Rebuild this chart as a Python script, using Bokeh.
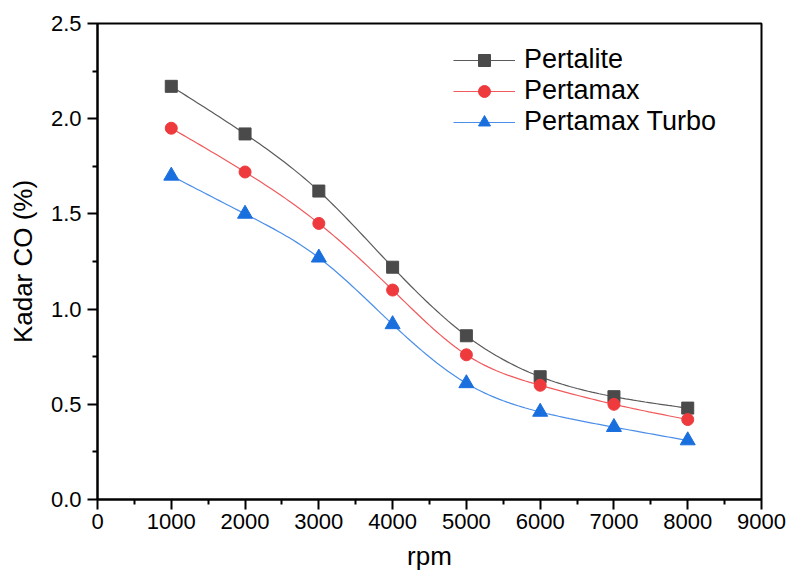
import numpy as np
from bokeh.plotting import figure
from bokeh.models import Range1d, FixedTicker, NumeralTickFormatter, Legend, LegendItem
from bokeh.embed import file_html
from bokeh.resources import INLINE

rpm = [1000, 2000, 3000, 4000, 5000, 6000, 7000, 8000]
pertalite = [2.17, 1.92, 1.62, 1.22, 0.86, 0.645, 0.54, 0.48]
pertamax = [1.95, 1.72, 1.45, 1.10, 0.76, 0.60, 0.50, 0.42]
pertamax_turbo = [1.70, 1.50, 1.27, 0.92, 0.61, 0.46, 0.38, 0.31]
x_ticks = [0, 1000, 2000, 3000, 4000, 5000, 6000, 7000, 8000, 9000]
y_ticks = [0.0, 0.5, 1.0, 1.5, 2.0, 2.5]

FONT = "Liberation Sans"


def spline(xs, ys, n=20):
    """Natural cubic spline through the data points (smooth connecting line)."""
    xs = np.asarray(xs, float)
    ys = np.asarray(ys, float)
    m = len(xs)
    h = np.diff(xs)
    A = np.zeros((m, m))
    b = np.zeros(m)
    A[0, 0] = 1
    A[-1, -1] = 1
    for i in range(1, m - 1):
        A[i, i - 1] = h[i - 1]
        A[i, i] = 2 * (h[i - 1] + h[i])
        A[i, i + 1] = h[i]
        b[i] = 3 * ((ys[i + 1] - ys[i]) / h[i] - (ys[i] - ys[i - 1]) / h[i - 1])
    c = np.linalg.solve(A, b)
    out_x, out_y = [], []
    for i in range(m - 1):
        bi = (ys[i + 1] - ys[i]) / h[i] - h[i] * (2 * c[i] + c[i + 1]) / 3
        di = (c[i + 1] - c[i]) / (3 * h[i])
        t = np.linspace(0, h[i], n, endpoint=(i == m - 2))
        out_x.extend(xs[i] + t)
        out_y.extend(ys[i] + bi * t + c[i] * t ** 2 + di * t ** 3)
    return out_x, out_y


p = figure(width=789, height=571, frame_width=664, frame_height=476,
           output_backend="svg", toolbar_location=None,
           x_range=Range1d(0, 9000), y_range=Range1d(0, 2.5),
           min_border_left=97, min_border_right=28, min_border_top=23, min_border_bottom=72)

p.xgrid.visible = False
p.ygrid.visible = False
p.outline_line_color = "black"
p.outline_line_width = 2
p.outline_line_alpha = 1
p.background_fill_color = "white"
p.border_fill_color = "white"

series = [
    ("Pertalite", pertalite, "#4a4a4a", "#5a5a5a", "square", 12),
    ("Pertamax", pertamax, "#ef3a3d", "#f05a5c", "circle", 12),
    ("Pertamax Turbo", pertamax_turbo, "#1a6fdf", "#4b8ee8", "triangle", 15),
]

items = []
for name, ys, mcol, lcol, marker, size in series:
    sx, sy = spline(rpm, ys)
    r_line = p.line(sx, sy, line_color=lcol, line_width=1.2)
    r_mark = p.scatter(rpm, ys, marker=marker, size=size, fill_color=mcol, line_color=mcol)
    items.append(LegendItem(label=name, renderers=[r_line, r_mark]))

legend = Legend(items=items, location=(356, 362))
legend.border_line_color = None
legend.background_fill_alpha = 0
legend.padding = 0
legend.margin = 0
legend.spacing = 0
legend.glyph_width = 62
legend.glyph_height = 30
legend.label_height = 30
legend.label_standoff = 9
legend.label_text_font = FONT
legend.label_text_font_size = "27px"
legend.label_text_color = "black"
p.add_layout(legend)

for ax in (p.xaxis[0], p.yaxis[0]):
    ax.axis_line_width = 2
    ax.axis_line_color = "black"
    ax.major_tick_line_width = 2
    ax.minor_tick_line_width = 2
    ax.major_tick_out = 10
    ax.major_tick_in = 0
    ax.minor_tick_out = 5
    ax.minor_tick_in = 0
    ax.major_label_text_font = FONT
    ax.major_label_text_font_size = "22px"
    ax.major_label_text_color = "black"
    ax.axis_label_text_font = FONT
    ax.axis_label_text_font_size = "26px"
    ax.axis_label_text_font_style = "normal"
    ax.axis_label_text_color = "black"

p.xaxis[0].ticker = FixedTicker(ticks=x_ticks, minor_ticks=[500 + 1000 * i for i in range(9)])
p.yaxis[0].ticker = FixedTicker(ticks=y_ticks, minor_ticks=[0.25 + 0.5 * i for i in range(5)])
p.yaxis[0].formatter = NumeralTickFormatter(format="0.0")
p.xaxis[0].axis_label = "rpm"
p.yaxis[0].axis_label = "Kadar CO (%)"
p.xaxis[0].major_label_standoff = 4
p.yaxis[0].major_label_standoff = 6
p.xaxis[0].axis_label_standoff = 9
p.yaxis[0].axis_label_standoff = 10

open("out.html", "w").write(file_html(p, INLINE))
